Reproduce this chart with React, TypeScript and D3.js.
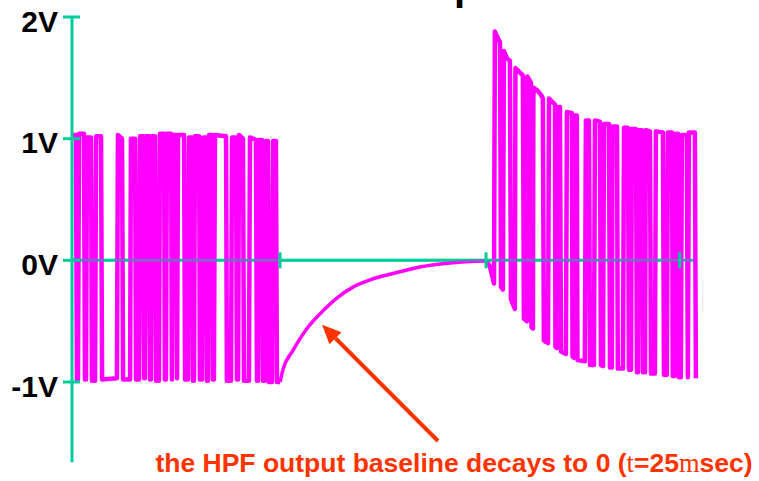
import React, { useEffect, useRef } from "react";
import * as d3 from "d3";

// time in msec, voltage in V
const yTicks = [2, 1, 0, -1];
const yTickLabels = ["2V", "1V", "0V", "-1V"];
const xTicks = [101, 201, 295];
const xAxisEnd = 301.5;
const yAxisBottom = -1.66;

// random bit stream before the gap (HPF output around 0)
const burstIn: [number, number][] = [
  [0, 1.03], [1.9, 1.03], [2.4, -0.98], [2.9, -0.98], [3.4, 1.04], [5.8, 1.04],
  [6.3, -0.98], [6.8, -0.98], [7.3, 1.01], [9.2, 1.01], [9.7, -0.99], [11.2, -0.99],
  [11.7, 1.02], [14.1, 1.02], [14.6, -0.98], [21.8, -0.97], [22.3, 1.03], [24.3, 1.0],
  [24.8, -0.98], [28.2, -0.98], [28.6, 1.0], [30.6, 1.0], [31.1, -0.98], [32.5, -0.98],
  [33, 1.02], [34.5, 1.02], [35, -0.97], [35.4, -0.97], [35.9, 1.02], [37.4, 1.02],
  [37.9, -0.98], [38.3, -0.98], [38.8, 1.02], [40.3, 1.02], [40.8, -0.99], [42.2, -0.99],
  [42.7, 1.04], [44.7, 1.04], [45.1, -0.98], [45.6, -0.98], [46.1, 1.04], [48.1, 1.04],
  [48.5, -0.98], [49, 1.03], [50.5, 1.03], [51, -0.97], [51.5, 1.03], [54.4, 1.03],
  [54.9, -0.98], [56.3, -0.98], [56.8, 1.01], [58.3, 1.01], [58.7, -0.99], [59.2, -0.99],
  [59.7, 1.02], [61.7, 1.02], [62.1, -0.98], [63.1, -0.98], [63.6, 1.01], [65, 1.01],
  [65.5, -0.99], [66, -0.99], [66.5, 1.03], [68, 1.03], [68.4, -0.98], [68.9, -0.98],
  [69.4, 1.03], [74.8, 1.02], [75.2, -0.99], [77.2, -0.99], [77.7, 1.01], [79.6, 1.01],
  [80.1, -0.98], [80.6, -0.98], [81.1, 1.03], [83, 1.0], [83.5, -0.99], [85.9, -0.99],
  [86.4, 1.01], [89.3, 0.99], [89.8, -0.99], [90.3, -0.99], [90.8, 0.99], [92.2, 0.99],
  [92.7, -0.99], [93.7, -0.99], [94.2, 0.98], [95.1, 0.98], [95.6, -1.0], [97.1, -1.0],
  [97.6, 0.98], [99, 0.98], [99.5, -1.0], [101, -1.0],
];

// baseline recovering towards 0 while the input is idle
const baselineDecay: [number, number][] = [
  [101, -1.0], [102.4, -0.9], [107.3, -0.74], [114.1, -0.56], [120.4, -0.44],
  [128.6, -0.31], [136.4, -0.22], [144.7, -0.16], [157.8, -0.1], [168.9, -0.055],
  [184.9, -0.02], [199.5, -0.005], [201.5, -0.01],
];

// bit stream restarting, offset decaying back down
const burstOut: [number, number][] = [
  [201.5, -0.01], [202.9, -0.05], [204.9, -0.19],
  [205.3, 1.88], [207.8, 1.79], [208.3, -0.22], [209.2, -0.24],
  [209.7, 1.72], [211.2, 1.66], [212.6, 1.64], [213.1, -0.32], [215.0, -0.4],
  [215.3, 1.58], [218.9, 1.52], [219.4, -0.48], [220.9, -0.5],
  [221.1, 1.51], [222.8, 1.46], [223.1, -0.55], [223.8, -0.56],
  [224.0, 1.42], [225.7, 1.4], [227.7, 1.36], [228.6, 1.33], [229.1, -0.66], [231.1, -0.68],
  [231.6, 1.33], [234.5, 1.28], [234.7, -0.71], [235.4, -0.72],
  [235.9, 1.26], [236.9, 1.26], [237.4, -0.75], [239.8, -0.77],
  [240.3, 1.22], [242.7, 1.21], [243.0, -0.79], [243.7, -0.8],
  [243.9, 1.19], [245.1, 1.19], [245.4, -0.82], [249.0, -0.83],
  [249.5, 1.15], [251.0, 1.15], [251.5, -0.86], [253.4, -0.86],
  [253.9, 1.15], [256.3, 1.14], [256.8, -0.86], [257.8, -0.87],
  [258.3, 1.12], [260.7, 1.12], [261.2, -0.88], [262.1, -0.88],
  [262.4, 1.1], [264.6, 1.1], [265.0, -0.89], [267.5, -0.89],
  [268.0, 1.09], [269.9, 1.09], [270.4, -0.9], [271.4, -0.9],
  [271.8, 1.08], [273.8, 1.08], [274.3, -0.92], [274.8, -0.92],
  [275.2, 1.07], [276.7, 1.07], [277.2, -0.92], [278.2, -0.92],
  [278.6, 1.07], [280.6, 1.06], [281.1, -0.93], [283.0, -0.93],
  [283.5, 1.06], [286.9, 1.05], [287.4, -0.94], [288.8, -0.94],
  [289.3, 1.05], [291.3, 1.05], [291.7, -0.95], [292.7, -0.95],
  [293.2, 1.04], [294.2, 1.04], [294.7, -0.96], [295.6, -0.96],
  [296.1, 1.03], [298.5, 1.03], [299.0, -0.96],
  [299.5, 1.05], [302.4, 1.05], [302.9, -0.97],
];

// annotation arrow (data units)
const arrowTail: [number, number] = [177.7, -1.485];
const arrowTip: [number, number] = [121.4, -0.53];
const noteAnchor: [number, number] = [40.5, -1.74];

const TEAL = "#00cc99";
const MAGENTA = "#ff00ff";
const ORANGE = "#ff3300";

function App() {
  const svgRef = useRef(null);
  useEffect(() => {
    const width = 759;
    const height = 481;

    d3.select(svgRef.current).selectAll("*").remove();
    const svg = d3
      .select(svgRef.current)
      .attr("width", width)
      .attr("height", height);

    svg.append("rect").attr("width", width).attr("height", height).attr("fill", "#fff");

    const x = d3.scaleLinear().domain([0, xAxisEnd]).range([72, 693]);
    const y = d3.scaleLinear().domain([-1, 2]).range([382, 17]);

    // title sits above the frame, only a descender shows
    svg
      .append("text")
      .attr("x", 454)
      .attr("y", 0)
      .style("font-family", "Liberation Sans, Arial, sans-serif")
      .style("font-weight", "bold")
      .style("font-size", "40px")
      .text("p");

    // 0V axis under the trace
    const zeroAxis = (opacity) => {
      svg
        .append("line")
        .attr("x1", x(0))
        .attr("x2", x(xAxisEnd))
        .attr("y1", y(0))
        .attr("y2", y(0))
        .attr("stroke", TEAL)
        .attr("stroke-width", 3)
        .attr("opacity", opacity);
    };
    zeroAxis(1);

    const line = d3
      .line()
      .x((d) => x(d[0]))
      .y((d) => y(d[1]));

    svg
      .append("path")
      .datum(baselineDecay)
      .attr("fill", "none")
      .attr("stroke", MAGENTA)
      .attr("stroke-width", 3.5)
      .attr("d", line.curve(d3.curveMonotoneX));

    line.curve(d3.curveLinear);
    [burstIn, burstOut].forEach((seg) => {
      svg
        .append("path")
        .datum(seg)
        .attr("fill", "none")
        .attr("stroke", MAGENTA)
        .attr("stroke-width", 4.5)
        .attr("stroke-linejoin", "round")
        .attr("d", line);
    });

    zeroAxis(0.45);

    // x ticks
    svg
      .selectAll(".xtick")
      .data(xTicks)
      .join("line")
      .attr("x1", (d) => x(d))
      .attr("x2", (d) => x(d))
      .attr("y1", y(0) - 8)
      .attr("y2", y(0) + 8)
      .attr("stroke", TEAL)
      .attr("stroke-width", 3);

    // vertical axis
    svg
      .append("line")
      .attr("x1", x(0))
      .attr("x2", x(0))
      .attr("y1", y(2) - 1)
      .attr("y2", y(yAxisBottom))
      .attr("stroke", TEAL)
      .attr("stroke-width", 3);

    svg
      .selectAll(".ytick")
      .data(yTicks)
      .join("line")
      .attr("x1", x(0) - 9)
      .attr("x2", x(0) + 8)
      .attr("y1", (d) => y(d))
      .attr("y2", (d) => y(d))
      .attr("stroke", TEAL)
      .attr("stroke-width", 3);

    svg
      .selectAll(".ylabel")
      .data(yTicks)
      .join("text")
      .attr("x", x(0) - 14)
      .attr("y", (d) => y(d) + 14.5)
      .attr("text-anchor", "end")
      .style("font-family", "Liberation Sans, Arial, sans-serif")
      .style("font-weight", "bold")
      .style("font-size", "30px")
      .text((d, i) => yTickLabels[i]);

    // annotation arrow
    const [tx, ty] = [x(arrowTip[0]), y(arrowTip[1])];
    const [sx, sy] = [x(arrowTail[0]), y(arrowTail[1])];
    const ang = Math.atan2(ty - sy, tx - sx);
    const headLen = 19;
    const headHalf = 8.5;
    const bx = tx - headLen * Math.cos(ang);
    const by = ty - headLen * Math.sin(ang);
    svg
      .append("line")
      .attr("x1", sx)
      .attr("y1", sy)
      .attr("x2", bx)
      .attr("y2", by)
      .attr("stroke", ORANGE)
      .attr("stroke-width", 4);
    svg
      .append("path")
      .attr(
        "d",
        `M${tx},${ty}L${bx + headHalf * Math.sin(ang)},${by - headHalf * Math.cos(ang)}` +
          `L${bx - headHalf * Math.sin(ang)},${by + headHalf * Math.cos(ang)}Z`
      )
      .attr("fill", ORANGE);

    const note = svg
      .append("text")
      .attr("x", x(noteAnchor[0]))
      .attr("y", y(noteAnchor[1]))
      .attr("fill", ORANGE)
      .style("font-family", "Liberation Sans, Arial, sans-serif")
      .style("font-weight", "bold")
      .style("font-size", "26.5px");
    note.append("tspan").text("the HPF output baseline decays to 0 (");
    note
      .append("tspan")
      .style("font-family", "Liberation Serif, Times New Roman, serif")
      .style("font-weight", "normal")
      .text("t");
    note.append("tspan").text("=25");
    note
      .append("tspan")
      .style("font-family", "Liberation Serif, Times New Roman, serif")
      .style("font-weight", "normal")
      .text("m");
    note.append("tspan").text("sec)");
  }, []);

  return <svg ref={svgRef} style={{ position: "absolute", left: 0, top: 0 }}></svg>;
}

export default App;
